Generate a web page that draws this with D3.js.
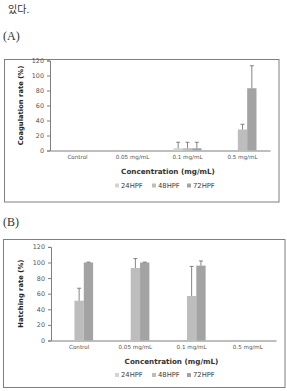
<!DOCTYPE html>
<html>
<head>
<meta charset="utf-8">
<script src="https://cdn.jsdelivr.net/npm/d3@7"></script>
<style>
  body { margin: 0; background: #fff; }
  svg { display: block; }
</style>
</head>
<body>
<script>
// categories and series
const categories = ["Control", "0.05 mg/mL", "0.1 mg/mL", "0.5 mg/mL"];
const seriesNames = ["24HPF", "48HPF", "72HPF"];
const yTicks = [0, 20, 40, 60, 80, 100, 120];

// (A) coagulation rate
const coag24 = [0, 0, 3, 0];
const coag48 = [0, 0, 3, 28];
const coag72 = [0, 0, 3, 83];
const coagErr24 = [0, 0, 8, 0];
const coagErr48 = [0, 0, 8, 7];
const coagErr72 = [0, 0, 8, 30];

// (B) hatching rate
const hatch24 = [0, 0, 0, 0];
const hatch48 = [51, 93, 57, 0];
const hatch72 = [100, 100, 96, 0];
const hatchErr24 = [0, 0, 0, 0];
const hatchErr48 = [16, 12, 38, 0];
const hatchErr72 = [0.5, 0.5, 6, 0];

const colors = ["#d4d4d4", "#bdbdbd", "#a3a3a3"];

const svg = d3.select("body").append("svg")
  .attr("width", 287)
  .attr("height", 391);

// text above the figure
svg.append("text")
  .attr("x", 8).attr("y", 13)
  .attr("font-family", "Noto Sans CJK KR")
  .attr("font-size", 10)
  .attr("fill", "#333")
  .text("있다.");

function panel(opt) {
  const g = svg.append("g");

  // frame
  g.append("rect")
    .attr("x", opt.box[0]).attr("y", opt.box[1])
    .attr("width", opt.box[2]).attr("height", opt.box[3])
    .attr("fill", "none").attr("stroke", "#7f7f7f").attr("stroke-width", 1);

  g.append("text")
    .attr("x", 3).attr("y", opt.labelY)
    .attr("font-family", "Liberation Serif")
    .attr("font-size", 12)
    .attr("fill", "#333")
    .text(opt.label);

  const x = d3.scaleBand().domain(categories).range(opt.xRange).paddingInner(0).paddingOuter(0);
  const xs = d3.scaleBand().domain(seriesNames)
    .range([x.bandwidth() / 2 - 14, x.bandwidth() / 2 + 14]);
  const y = d3.scaleLinear().domain([0, 120]).range(opt.yRange);

  // y axis
  const ya = g.append("g")
    .attr("transform", `translate(${opt.xRange[0]},0)`)
    .call(d3.axisLeft(y).tickValues(yTicks).tickSize(3).tickPadding(3));
  ya.select(".domain").attr("stroke", "#7f7f7f");
  ya.selectAll(".tick line").attr("stroke", "#7f7f7f");
  ya.selectAll("text").attr("font-family", "DejaVu Sans").attr("font-size", 6.4).attr("fill", "#555");

  // x axis
  const xa = g.append("g")
    .attr("transform", `translate(0,${opt.yRange[0]})`)
    .call(d3.axisBottom(x).tickSize(0).tickPadding(5));
  xa.select(".domain").attr("stroke", "#7f7f7f");
  xa.selectAll("text").attr("font-family", "DejaVu Sans").attr("font-size", 5.6).attr("fill", "#555");

  // bars
  opt.values.forEach((vals, si) => {
    const name = seriesNames[si];
    vals.forEach((v, ci) => {
      const cx = x(categories[ci]) + xs(name);
      if (v > 0) {
        g.append("rect")
          .attr("x", cx).attr("y", y(v))
          .attr("width", xs.bandwidth()).attr("height", y(0) - y(v))
          .attr("fill", colors[si]);
      }
      const e = opt.errors[si][ci];
      if (v > 0 || e > 0) {
        const mx = cx + xs.bandwidth() / 2;
        g.append("line")
          .attr("x1", mx).attr("x2", mx)
          .attr("y1", y(v)).attr("y2", y(v + e))
          .attr("stroke", "#666").attr("stroke-width", 0.8);
        g.append("line")
          .attr("x1", mx - 2).attr("x2", mx + 2)
          .attr("y1", y(v + e)).attr("y2", y(v + e))
          .attr("stroke", "#666").attr("stroke-width", 0.8);
      }
    });
  });

  // y title
  const ymid = (opt.yRange[0] + opt.yRange[1]) / 2;
  g.append("text")
    .attr("transform", `translate(23,${ymid}) rotate(-90)`)
    .attr("text-anchor", "middle")
    .attr("font-family", "DejaVu Sans")
    .attr("font-weight", "bold")
    .attr("font-size", 6.8)
    .attr("fill", "#222")
    .text(opt.yTitle);

  // x title
  g.append("text")
    .attr("x", (opt.xRange[0] + opt.xRange[1]) / 2 + 8)
    .attr("y", opt.yRange[0] + 23)
    .attr("text-anchor", "middle")
    .attr("font-family", "DejaVu Sans")
    .attr("font-weight", "bold")
    .attr("font-size", 7.2)
    .attr("fill", "#333")
    .text("Concentration (mg/mL)");

  // legend
  const lx = [115, 152, 187];
  seriesNames.forEach((n, i) => {
    g.append("rect")
      .attr("x", lx[i]).attr("y", opt.legendY - 4)
      .attr("width", 4).attr("height", 4)
      .attr("fill", colors[i]);
    g.append("text")
      .attr("x", lx[i] + 6).attr("y", opt.legendY)
      .attr("font-family", "DejaVu Sans")
      .attr("font-size", 6.8)
      .attr("fill", "#444")
      .text(n);
  });
}

panel({
  label: "(A)", labelY: 40,
  box: [4.5, 59.5, 274.5, 142.5],
  xRange: [50, 270], yRange: [150.5, 60.5],
  values: [coag24, coag48, coag72],
  errors: [coagErr24, coagErr48, coagErr72],
  yTitle: "Coagulation rate (%)",
  legendY: 187.5
});

panel({
  label: "(B)", labelY: 226,
  box: [3.5, 239.5, 281.5, 148],
  xRange: [51, 276], yRange: [340.5, 246.9],
  values: [hatch24, hatch48, hatch72],
  errors: [hatchErr24, hatchErr48, hatchErr72],
  yTitle: "Hatching rate (%)",
  legendY: 377
});
</script>
</body>
</html>
